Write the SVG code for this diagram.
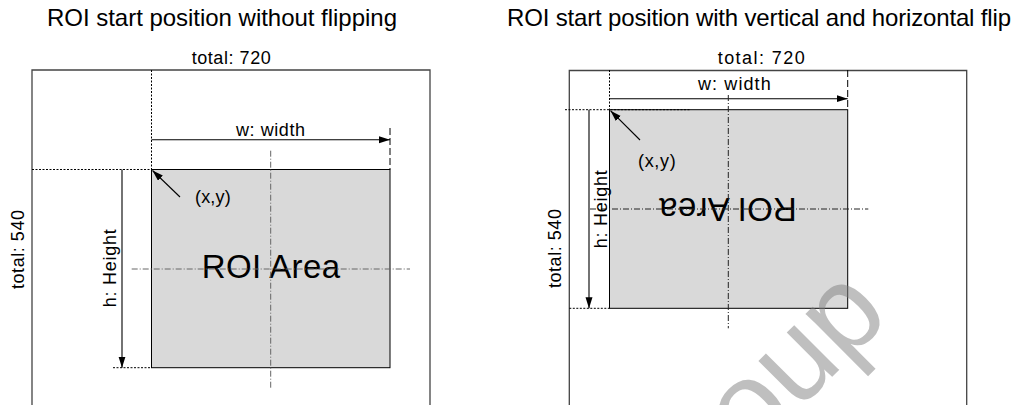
<svg xmlns="http://www.w3.org/2000/svg" width="1019" height="405" viewBox="0 0 1019 405">
<style>
text{font-family:"Liberation Sans",Arial,sans-serif;fill:#000}
.title{font-size:24px}
.lbl{font-size:18px}
.big{font-size:33px}
.frame{fill:none;stroke:#444;stroke-width:1.3}
.roi{fill:#d9d9d9;stroke:#000;stroke-width:1}
.dot{stroke:#000;stroke-width:1;stroke-dasharray:2 1.5;fill:none}
.dash{stroke:#000;stroke-width:1;stroke-dasharray:7 3;fill:none}
.cl{stroke:#666;stroke-width:1;stroke-dasharray:6 2 1 2;fill:none}
.cl2{stroke:#222;stroke-width:1;stroke-dasharray:6 2 1 2;fill:none}
.arr{stroke:#000;stroke-width:1.1;fill:none;marker-end:url(#ah)}
.wm{font-size:120px;fill:#808080;fill-opacity:0.5}
</style>
<defs>
<marker id="ah" markerUnits="userSpaceOnUse" markerWidth="12" markerHeight="8" refX="11" refY="3.5" orient="auto">
<path d="M0,0 L11,3.5 L0,7 z" fill="#000"/>
</marker>
</defs>

<text class="title" x="47" y="26" textLength="350" lengthAdjust="spacing">ROI start position without flipping</text>
<text class="title" x="507" y="26" textLength="504" lengthAdjust="spacing">ROI start position with vertical and horizontal flip</text>

<g id="left-frame">
<path class="frame" d="M32,405 V70 H430 V405"/>
<text class="lbl" x="191.7" y="64" textLength="79" lengthAdjust="spacing">total: 720</text>
<text class="lbl" transform="translate(24,249.5) rotate(-90)" text-anchor="middle" textLength="79" lengthAdjust="spacing">total: 540</text>
</g>
<g id="left-roi">
<rect class="roi" x="151.5" y="169.5" width="238.5" height="198.2"/>
<text class="big" x="201.7" y="278.3" textLength="138.3" lengthAdjust="spacing">ROI Area</text>
</g>

<g id="right-frame">
<path class="frame" d="M569.3,405 V70.5 H966.7 V405"/>
<text class="lbl" x="717.7" y="64" textLength="87" lengthAdjust="spacing">total: 720</text>
<text class="lbl" transform="translate(561,248.6) rotate(-90)" text-anchor="middle" textLength="79" lengthAdjust="spacing">total: 540</text>
</g>
<g id="right-roi">
<rect class="roi" x="609.5" y="109.7" width="238.2" height="198.6"/>
<text class="big" transform="translate(728,198.3) rotate(180)" text-anchor="middle" textLength="137.7" lengthAdjust="spacing">ROI Area</text>
</g>

<g id="connectors">
<line class="dot" x1="151.5" y1="70" x2="151.5" y2="169.5"/>
<line class="dot" x1="32" y1="169.5" x2="170" y2="169.5"/>
<line class="arr" x1="151.5" y1="139.7" x2="390" y2="139.7"/>
<line class="dash" x1="390" y1="128" x2="390" y2="169.5"/>
<line class="cl" x1="270.7" y1="150.7" x2="270.7" y2="387.7"/>
<line class="cl" x1="131.7" y1="269" x2="410" y2="269"/>
<line class="arr" x1="180" y1="197" x2="152.5" y2="170.5"/>
<line class="arr" x1="122" y1="169.5" x2="122" y2="367.7"/>
<line class="dot" x1="113" y1="367.7" x2="151.5" y2="367.7"/>
<line class="dot" x1="609.5" y1="70" x2="609.5" y2="109.7"/>
<line class="dot" x1="565" y1="109.7" x2="690" y2="109.7"/>
<line class="arr" x1="609.5" y1="98.7" x2="847.7" y2="98.7"/>
<line class="dash" x1="847.7" y1="70" x2="847.7" y2="109.7"/>
<line class="cl2" x1="728.3" y1="95" x2="728.3" y2="328.3"/>
<line class="cl2" x1="590" y1="209" x2="868.3" y2="209"/>
<line class="arr" x1="640" y1="140" x2="610.5" y2="110.7"/>
<line class="arr" x1="589" y1="109.7" x2="589" y2="308.3"/>
<line class="dot" x1="569.3" y1="308.3" x2="609.5" y2="308.3"/>
</g>

<g id="labels">
<text class="lbl" x="236" y="136" textLength="69" lengthAdjust="spacing">w: width</text>
<text class="lbl" x="195" y="202.5" textLength="35.7" lengthAdjust="spacing">(x,y)</text>
<text class="lbl" transform="translate(115.5,268.3) rotate(-90)" text-anchor="middle" textLength="78" lengthAdjust="spacing">h: Height</text>
<text class="lbl" x="698" y="90" textLength="72.7" lengthAdjust="spacing">w: width</text>
<text class="lbl" x="638" y="166.7" textLength="37.7" lengthAdjust="spacing">(x,y)</text>
<text class="lbl" transform="translate(606.5,209.2) rotate(-90)" text-anchor="middle" textLength="78" lengthAdjust="spacing">h: Height</text>
</g>

<text class="wm" transform="translate(675,534) rotate(-45)">group</text>
</svg>
